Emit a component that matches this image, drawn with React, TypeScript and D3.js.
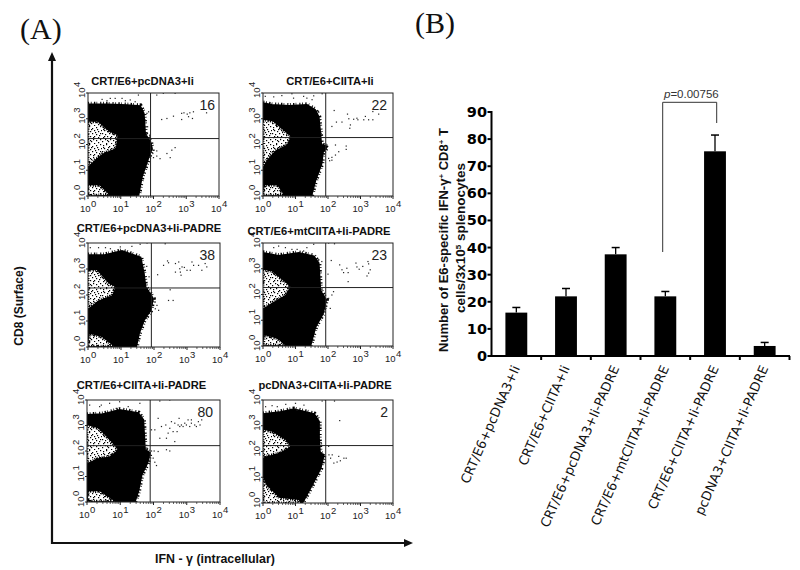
import React from "react";
import * as d3 from "d3";

type P = [number, number];

// ---------- Panel (B) data ----------
const categories = [
  "CRT/E6+pcDNA3+Ii",
  "CRT/E6+CIITA+Ii",
  "CRT/E6+pcDNA3+Ii-PADRE",
  "CRT/E6+mtCIITA+Ii-PADRE",
  "CRT/E6+CIITA+Ii-PADRE",
  "pcDNA3+CIITA+Ii-PADRE",
];
const barMeans = [16, 22, 37.5, 22, 75.5, 3.7];
const barTops = [17.9, 24.9, 40, 23.8, 81.5, 5];
const barTicks = [0, 10, 20, 30, 40, 50, 60, 70, 80, 90];

// ---------- Panel (A) data: all coordinates are log10 fluorescence ----------
const plotTitles = [
  "CRT/E6+pcDNA3+Ii",
  "CRT/E6+CIITA+Ii",
  "CRT/E6+pcDNA3+Ii-PADRE",
  "CRT/E6+mtCIITA+Ii-PADRE",
  "CRT/E6+CIITA+Ii-PADRE",
  "pcDNA3+CIITA+Ii-PADRE",
];
const plotCounts = ["16", "22", "38", "23", "80", "2"];
const gateX = [1.91, 1.93, 1.92, 1.93, 1.9, 1.93];
const gateY = [2.23, 2.27, 2.27, 2.27, 2.21, 2.23];

const blob1: P[] = [[0,3.55],[0.6,3.55],[1.2,3.52],[1.59,3.49],[1.7,3.2],[1.74,2.42],[1.9,2.1],[1.95,1.85],[1.82,1.4],[1.64,0.74],[1.54,0.05],[0,0]];
const blob2: P[] = [[0,3.6],[0.28,3.53],[0.8,3.5],[1.35,3.53],[1.6,3.34],[1.71,3.08],[1.76,2.43],[1.79,1.98],[1.97,1.92],[1.84,1.7],[1.8,1.26],[1.61,0.61],[1.49,0.03],[0,0]];
const blob3: P[] = [[0,3.53],[0.5,3.53],[1.03,3.69],[1.59,3.44],[1.69,2.82],[1.74,2.31],[1.97,1.86],[1.89,1.41],[1.69,1.03],[1.54,0.51],[1.46,0.03],[0,0]];
const blob4: P[] = [[0,3.61],[0.48,3.5],[1.1,3.61],[1.56,3.48],[1.71,3.22],[1.76,2.18],[1.81,2.05],[1.94,1.79],[1.84,1.26],[1.61,0.74],[1.46,0.03],[0,0]];
const blob5: P[] = [[0,3.41],[0.48,3.44],[0.98,3.61],[1.54,3.48],[1.69,3.22],[1.74,2.05],[1.89,1.92],[1.81,1.52],[1.64,1.07],[1.54,0.42],[1.44,0.03],[0,0]];
const blob6: P[] = [[0,3.45],[0.49,3.52],[0.95,3.64],[1.57,3.45],[1.72,3.16],[1.72,2.52],[1.75,1.94],[1.87,1.87],[1.77,1.35],[1.51,0.71],[1.26,0.13],[1.2,0],[0,0]];

const holes1: P[][] = [
  [[0,2.88],[0.3,2.88],[0.65,2.5],[0.9,2.36],[0.85,1.85],[0.45,1.65],[0.25,1.45],[0,1.15]],
  [[0,0.42],[0.35,0.42],[0.65,0.05],[0,0.02]],
];
const holes2: P[][] = [
  [[0,2.96],[0.3,2.9],[0.85,2.31],[0.74,2.0],[0.38,1.77],[0.12,1.4],[0,1.13]],
  [[0.03,0.42],[0.45,0.42],[0.64,0.03],[0,0.03]],
];
const holes3: P[][] = [
  [[0,2.95],[0.27,2.95],[0.63,2.44],[0.83,2.31],[0.73,1.99],[0.32,1.79],[0,1.47]],
  [[0.05,0.51],[0.42,0.38],[0.78,0.03],[0,0.03]],
];
const holes4: P[][] = [
  [[0,2.96],[0.28,2.89],[0.84,2.31],[0.69,1.98],[0.33,1.72],[0,1.46]],
  [[0.05,0.42],[0.43,0.29],[0.69,0.03],[0,0.03]],
];
const holes5: P[][] = [
  [[0,3.02],[0.33,2.89],[0.68,2.44],[0.93,2.05],[0.68,1.78],[0.33,1.72],[0,1.52]],
  [[0.03,0.42],[0.38,0.42],[0.83,0.03],[0.03,0.03]],
];
const holes6: P[][] = [
  [[0,2.84],[0.28,2.77],[0.7,2.45],[0.85,2.19],[0.49,1.94],[0.08,1.81],[0,1.74]],
  [[0,1.0],[0.1,0.7],[0.5,0.2],[1.1,0.12],[1.15,0],[0,0]],
];

const dots1: P[] = [[2.25,2.97],[2.41,3.01],[2.61,3.1],[2.86,3.21],[2.93,3.23],[3.03,3.18],[3.11,3.23],[3.22,3.27],[2.86,2.97],[3.07,3.08],[3.19,3.01],[3.62,3.23],[2.1,3.92],[2.3,3.99],[2.66,3.99],[2.0,1.49],[2.1,1.55],[2.2,1.45],[2.41,1.65],[2.56,1.78],[2.66,1.88],[1.98,1.65],[2.02,1.78],[2.1,1.75],[2.51,1.49],[0.68,3.79],[0.83,3.79],[1.04,3.79],[0.43,3.75],[1.29,3.73],[1.54,3.92],[1.44,3.66],[1.14,3.7],[0.58,3.7],[1.75,2.95],[1.82,2.69],[1.8,3.21],[1.85,3.27],[1.78,2.36],[1.88,2.36]];
const dots2: P[] = [[2.19,3.32],[2.12,2.7],[2.26,2.87],[2.43,2.87],[2.6,3.18],[2.64,3.0],[2.69,2.76],[2.67,2.63],[2.79,2.98],[2.89,3.02],[2.92,2.96],[3.1,2.96],[3.15,3.09],[3.25,2.96],[3.38,3.28],[3.38,2.96],[3.56,3.18],[1.97,1.98],[2.23,1.98],[2.02,1.46],[2.12,1.5],[2.23,1.59],[2.33,1.72],[2.56,1.94],[2.56,1.81],[2.05,1.37],[2.12,1.39],[0.07,3.87],[0.33,3.85],[0.58,3.9],[0.89,3.97],[0.94,3.8],[1.25,3.87],[1.35,3.8],[1.51,3.74],[1.82,3.97],[1.56,3.89],[1.71,3.28],[1.76,2.96],[1.79,2.43]];
const dots3: P[] = [[2.11,2.78],[2.29,3.14],[2.41,3.31],[2.44,3.24],[2.65,3.21],[2.65,2.88],[2.75,3.27],[2.78,3.01],[2.82,2.76],[2.85,3.08],[2.92,3.06],[3.0,2.95],[3.1,2.95],[3.15,3.27],[3.2,3.14],[3.35,3.14],[3.45,2.95],[3.55,3.21],[3.6,3.08],[2.8,2.88],[2.49,2.2],[2.44,1.79],[2.58,1.79],[1.99,1.86],[2.04,1.73],[2.09,1.6],[2.14,1.41],[2.04,1.47],[0.07,3.82],[0.32,3.82],[0.53,3.82],[0.68,3.78],[0.98,3.85],[1.33,3.87],[1.58,3.95],[1.79,4.0],[2.34,3.97],[1.78,3.1],[1.85,2.7],[1.8,1.2]];
const dots4: P[] = [[2.0,2.79],[2.1,3.32],[2.36,3.15],[2.43,2.96],[2.48,2.85],[2.58,3.02],[2.62,2.85],[2.62,2.5],[2.86,3.22],[2.89,3.07],[2.96,2.98],[3.07,3.09],[3.23,3.28],[3.25,3.19],[3.3,2.96],[3.25,2.83],[3.2,2.72],[2.02,4.0],[2.2,3.97],[2.17,2.11],[2.12,1.98],[2.02,1.85],[2.07,1.46],[1.92,1.42],[1.97,1.79],[0.33,3.82],[0.48,3.88],[0.69,3.82],[0.89,3.75],[1.05,3.75],[1.35,3.82],[1.25,3.69],[1.56,3.95],[1.71,3.35],[1.81,3.28]];
const dots5: P[] = [[1.94,2.83],[2.04,2.83],[2.14,3.28],[2.24,2.96],[2.37,3.02],[2.44,2.7],[2.49,2.89],[2.54,3.15],[2.59,2.76],[2.64,3.09],[2.71,2.76],[2.74,3.02],[2.79,2.96],[2.84,3.02],[2.89,2.96],[2.94,3.09],[2.99,3.02],[3.04,3.22],[3.09,2.96],[3.14,3.22],[3.14,3.09],[3.24,3.02],[3.29,2.96],[3.35,3.15],[3.4,3.02],[3.45,3.22],[2.19,2.5],[2.39,2.5],[2.64,2.37],[2.77,3.28],[1.94,2.0],[2.02,2.0],[2.14,1.98],[1.99,1.72],[2.04,1.56],[2.09,1.43],[2.39,2.05],[2.49,2.0],[0.08,3.8],[0.38,3.74],[0.43,3.8],[0.68,3.87],[0.98,3.93],[0.88,3.67],[1.24,3.74],[1.59,3.87],[2.19,3.96],[2.49,4.0]];
const dots6: P[] = [[2.36,3.2],[2.03,1.87],[2.08,1.74],[2.18,1.55],[2.28,1.59],[2.38,1.64],[2.49,1.74],[2.56,1.74],[2.13,1.87],[2.33,1.81],[0.08,3.74],[0.28,3.78],[0.44,3.74],[0.7,3.83],[1.0,3.87],[1.26,3.8],[1.82,3.96],[1.92,4.0],[1.05,3.61],[2.2,3.96],[1.78,3.0],[1.8,2.3],[2.02,2.2]];

const plotBlobs = [blob1, blob2, blob3, blob4, blob5, blob6];
const plotHoles = [holes1, holes2, holes3, holes4, holes5, holes6];
const plotDots = [dots1, dots2, dots3, dots4, dots5, dots6];
const decades = [0, 1, 2, 3, 4];
const minorSteps = [2, 3, 4, 5, 6, 7, 8, 9];

// ---------- Layout ----------
const frames = [
  { x0: 88, x1: 219, y0: 93, y1: 196, tx: 142.5, ty: 85 },
  { x0: 263, x1: 393, y0: 93, y1: 196, tx: 330, ty: 85 },
  { x0: 88, x1: 220, y0: 243, y1: 347, tx: 149, ty: 232 },
  { x0: 263, x1: 393, y0: 243, y1: 346, tx: 319, ty: 235 },
  { x0: 87, x1: 220, y0: 400, y1: 502, tx: 141.5, ty: 389 },
  { x0: 263, x1: 393, y0: 400, y1: 503, tx: 325, ty: 389 },
];
const countRight = [215, 387, 215, 387, 213, 388];
const sans = "'Liberation Sans', Arial, sans-serif";
const ink = "#111";

const specks: P[] = [[1,1],[4,0],[7,2],[11,1],[15,0],[2,4],[5,5],[9,4],[13,5],[0,7],[3,8],[7,7],[11,8],[15,7],[5,10],[9,10],[13,11],[1,11],[6,3],[12,3],[3,13],[8,13],[11,14],[15,13],[0,15],[6,15],[13,16],[4,17],[9,17],[1,3],[10,6],[14,9],[2,10],[8,11],[16,4],[5,14]];

function FlowPlot({ i }: { i: number }) {
  const f = frames[i];
  const x = d3.scaleLinear().domain([0, 4]).range([f.x0, f.x1]);
  const y = d3.scaleLinear().domain([0, 4]).range([f.y1, f.y0]);
  const line = d3.line<P>().x((d) => x(d[0])).y((d) => y(d[1])).curve(d3.curveLinearClosed);
  const minors = decades.slice(0, 4).flatMap((d) => minorSteps.map((m) => d + Math.log10(m)));
  const clip = `clip${i}`;
  return (
    <g>
      <clipPath id={clip}>
        <rect x={f.x0} y={f.y0} width={f.x1 - f.x0} height={f.y1 - f.y0} />
      </clipPath>
      <g clipPath={`url(#${clip})`} filter="url(#soft)">
        <path d={line(plotBlobs[i]) ?? ""} fill="none" stroke="#000" strokeWidth={5.5} strokeDasharray="1.1 1.7 0.8 2.3 1.4 1.2 0.7 3" />
        <path d={line(plotBlobs[i]) ?? ""} fill="#000" stroke="#000" strokeWidth={2} />
        {plotHoles[i].map((h, k) => (
          <path key={k} d={line(h) ?? ""} fill="url(#speckle)" stroke="#000" strokeWidth={3} strokeDasharray="1.2 1.1 0.8 1.6" />
        ))}
        {plotDots[i].map((d, k) => (
          <rect key={k} x={x(d[0]) - 0.6} y={y(d[1]) - 0.6} width={1.2} height={1.2} fill="#222" />
        ))}
      </g>
      <rect x={f.x0} y={f.y0} width={f.x1 - f.x0} height={f.y1 - f.y0} fill="none" stroke="#222" strokeWidth={1} />
      <line x1={x(gateX[i])} x2={x(gateX[i])} y1={f.y0} y2={f.y1} stroke="#222" strokeWidth={1} />
      <line x1={f.x0} x2={f.x1} y1={y(gateY[i])} y2={y(gateY[i])} stroke="#222" strokeWidth={1} />
      {minors.map((m) => (
        <line key={m} x1={x(m)} x2={x(m)} y1={f.y1} y2={f.y1 + 2} stroke="#222" strokeWidth={0.7} />
      ))}
      {decades.map((d) => (
        <g key={d}>
          <line x1={x(d)} x2={x(d)} y1={f.y1} y2={f.y1 + 3} stroke="#222" />
          <line x1={f.x0} x2={f.x0 - 2} y1={y(d)} y2={y(d)} stroke="#222" />
          <text x={x(d) - 8} y={f.y1 + 15.5} fontFamily={sans} fontSize={9.5} fill="#222">
            10<tspan dy={-5} dx={0.5}>{d}</tspan>
          </text>
          <text transform={`translate(${f.x0 - 3},${y(d) + 5}) rotate(-90)`} fontFamily={sans} fontSize={9.5} fill="#222">
            10<tspan dy={-5} dx={0.5}>{d}</tspan>
          </text>
        </g>
      ))}
      <text x={f.tx} y={f.ty} textAnchor="middle" fontFamily={sans} fontWeight="bold" fontSize={11.2} fill={ink}>
        {plotTitles[i]}
      </text>
      <text x={countRight[i]} y={f.y0 + 17} textAnchor="end" fontFamily={sans} fontSize={14} fill="#222">
        {plotCounts[i]}
      </text>
    </g>
  );
}

function BarPanel() {
  const x = d3.scaleBand<string>().domain(categories).range([491.5, 789.5]).paddingInner(0.56).paddingOuter(0.28);
  const y = d3.scaleLinear().domain([0, 90]).range([356, 112]);
  const step = x.step();
  const edges = d3.range(1, 7).map((k) => 491.5 + k * step);
  return (
    <g>
      {categories.map((c, i) => {
        const cx = (x(c) ?? 0) + x.bandwidth() / 2;
        return (
          <g key={c}>
            <line x1={cx} x2={cx} y1={y(barMeans[i])} y2={y(barTops[i])} stroke="#000" strokeWidth={1.3} />
            <line x1={cx - 4} x2={cx + 4} y1={y(barTops[i])} y2={y(barTops[i])} stroke="#000" strokeWidth={1.5} />
            <rect x={x(c)} y={y(barMeans[i])} width={x.bandwidth()} height={y(0) - y(barMeans[i])} fill="#000" />
            <text
              transform={`translate(${cx + 4},368) rotate(-66)`}
              textAnchor="end"
              fontFamily="'DejaVu Sans', sans-serif"
              fontSize={13}
              fill={ink}
            >
              {c}
            </text>
          </g>
        );
      })}
      <line x1={491.5} x2={491.5} y1={111} y2={357} stroke="#000" strokeWidth={2} />
      <line x1={490.5} x2={790} y1={356} y2={356} stroke="#000" strokeWidth={2} />
      {edges.map((e) => (
        <line key={e} x1={e} x2={e} y1={356} y2={360} stroke="#000" strokeWidth={2} />
      ))}
      {barTicks.map((t) => (
        <g key={t}>
          <line x1={487.5} x2={491.5} y1={y(t)} y2={y(t)} stroke="#000" strokeWidth={2} />
          <text x={487} y={y(t) + 5} textAnchor="end" fontFamily="'DejaVu Sans', sans-serif" fontWeight="bold" fontSize={14.5} fill="#000">
            {t}
          </text>
        </g>
      ))}
      <path d={`M662.7,252V102.3H716.7V123`} fill="none" stroke="#333" strokeWidth={1} />
      <text x={664} y={97.5} fontFamily={sans} fontSize={11.5} fill="#333">
        <tspan fontStyle="italic">p</tspan>=0.00756
      </text>
      <text transform="translate(448,240) rotate(-90)" textAnchor="middle" fontFamily={sans} fontWeight="bold" fontSize={13} fill={ink}>
        Number of E6-specific IFN-γ<tspan dy={-4} fontSize={8}>+</tspan>
        <tspan dy={4}> CD8</tspan>
        <tspan dy={-4} fontSize={8}>+</tspan>
        <tspan dy={4}> T</tspan>
      </text>
      <text transform="translate(465,238) rotate(-90)" textAnchor="middle" fontFamily={sans} fontWeight="bold" fontSize={13.5} fill={ink}>
        cells/3x10<tspan dy={-4} fontSize={8}>5</tspan>
        <tspan dy={4}> splenocytes</tspan>
      </text>
    </g>
  );
}

export default function App() {
  return (
    <svg width={800} height={570} viewBox="0 0 800 570" style={{ position: "absolute", left: 0, top: 0, background: "#fff" }}>
      <defs>
        <filter id="soft" x="-5%" y="-5%" width="110%" height="110%">
          <feGaussianBlur stdDeviation={0.35} />
        </filter>
        <pattern id="speckle" width={17} height={18} patternUnits="userSpaceOnUse">
          <rect width={17} height={18} fill="#fff" />
          {specks.map((s, k) => (
            <rect key={k} x={s[0]} y={s[1]} width={1.2} height={1.2} fill="#000" />
          ))}
        </pattern>
      </defs>
      <text x={20} y={39} fontFamily="'Liberation Serif', serif" fontSize={30} fill="#111">(A)</text>
      <text x={415} y={33} fontFamily="'Liberation Serif', serif" fontSize={30} fill="#111">(B)</text>

      <path d="M52,60V543H406" fill="none" stroke="#111" strokeWidth={2.2} />
      <path d="M52,52L48,61H56Z M413,543L404,539V547Z" fill="#111" />
      <text transform="translate(23,306) rotate(-90)" textAnchor="middle" fontFamily={sans} fontWeight="bold" fontSize={12} fill={ink}>
        CD8 (Surface)
      </text>
      <text x={215} y={563} textAnchor="middle" fontFamily={sans} fontWeight="bold" fontSize={12.4} fill={ink}>
        IFN - γ (intracellular)
      </text>

      {frames.map((_, i) => (
        <FlowPlot key={i} i={i} />
      ))}
      <BarPanel />
    </svg>
  );
}
